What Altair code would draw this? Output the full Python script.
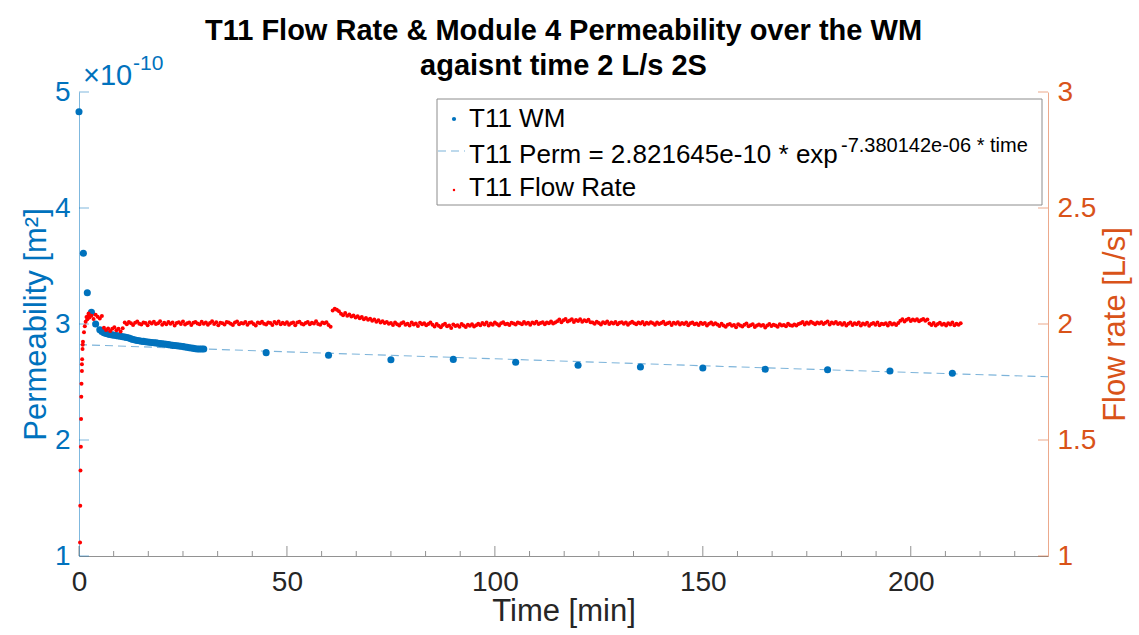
import altair as alt
import numpy as np
import pandas as pd

# ---------------- data ----------------
# Permeability (units of 1e-10 m^2)
perm_time = [0, 1.05, 2, 3, 4,
             5, 5.5, 6, 6.5, 7, 7.5, 8, 8.5, 9, 9.5, 10, 10.5, 11, 11.5, 12, 12.5,
             13, 13.5, 14, 14.5, 15, 15.5, 16, 16.5, 17, 17.5, 18, 18.5, 19, 19.5,
             20, 20.5, 21, 21.5, 22, 22.5, 23, 23.5, 24, 24.5, 25, 25.5, 26, 26.5,
             27, 27.5, 28, 28.5, 29, 29.5, 30,
             45, 60, 75, 90, 105, 120, 135, 150, 165, 180, 195, 210]
perm_values = [4.83, 3.61, 3.27, 3.10, 3.00,
               2.950, 2.935, 2.925, 2.918, 2.913, 2.910, 2.906, 2.903, 2.900, 2.897,
               2.894, 2.890, 2.887, 2.884, 2.880, 2.872, 2.866, 2.862, 2.858, 2.855,
               2.852, 2.850, 2.847, 2.845, 2.843, 2.841, 2.839, 2.837, 2.834, 2.831,
               2.829, 2.827, 2.825, 2.822, 2.819, 2.816, 2.814, 2.812, 2.810, 2.808,
               2.805, 2.802, 2.799, 2.796, 2.793, 2.790, 2.787, 2.785, 2.784, 2.784, 2.785,
               2.753, 2.730, 2.692, 2.695, 2.670, 2.645, 2.630, 2.620, 2.610, 2.605, 2.595, 2.575]

# Fitted curve
fit_time = [0, 25, 50, 75, 100, 125, 150, 175, 200, 233]
fit_values = [2.822, 2.791, 2.760, 2.730, 2.700, 2.670, 2.640, 2.611, 2.582, 2.545]

# Flow rate (L/s): start-up points
flow_start_time = [0.25, 0.3, 0.35, 0.45, 0.5, 0.55, 0.6, 0.7, 0.7, 0.75, 0.85, 0.9,
                   0.95, 1.2, 1.4, 1.6, 1.8, 2.0, 2.2, 2.3]
flow_start = [1.058, 1.217, 1.369, 1.471, 1.591, 1.686, 1.742, 1.797, 1.826, 1.848,
              1.892, 1.911, 1.924, 1.964, 1.990, 2.010, 2.030, 2.020, 2.035, 2.045]

# Flow rate (L/s) from 2.5 min, one reading every half minute
flow_seg_a = [2.028, 2.036, 2.022, 2.040, 2.031, 2.024, 2.034]
flow_seg_b = [1.984, 1.974, 1.981, 1.970, 1.979, 1.986, 1.973, 1.980, 1.968, 1.982]
flow_seg_c = [2.006, 1.999, 2.009, 2.003, 1.996, 2.005, 2.011, 2.001, 1.998, 2.007,
              2.004, 1.995, 2.008, 2.002, 2.010, 2.000, 2.003, 2.012, 1.997, 2.005,
              1.999, 2.009, 2.001, 2.006, 1.994, 2.004, 2.008, 2.000, 2.011, 1.998,
              2.003, 2.007, 1.996, 2.005, 2.009, 2.002, 1.999, 2.010, 2.001, 2.006,
              1.997, 2.004, 2.012, 2.000, 2.008, 1.995, 2.005, 2.003, 1.998, 2.009,
              2.007, 2.001, 1.996, 2.006, 2.011, 1.999, 2.004, 2.002, 2.009, 1.997,
              2.005, 2.008, 2.000, 1.994, 2.007, 2.003, 2.010, 2.001, 1.998, 2.006,
              2.004, 1.996, 2.009, 2.002, 2.011, 1.999, 2.005, 2.000, 2.008, 1.997,
              2.003, 2.007, 1.995, 2.006, 2.010, 2.001, 1.998, 2.004, 2.009, 1.999,
              2.005, 2.002, 2.012, 2.000, 1.997, 2.007, 2.003, 2.008, 1.996, 1.988]
flow_seg_d = [2.058, 2.066, 2.061, 2.055]
flow_seg_e = [2.044, 2.038, 2.047, 2.036, 2.041, 2.032, 2.037, 2.028, 2.033, 2.025,
              2.030, 2.021, 2.026, 2.018, 2.023, 2.014, 2.019, 2.010, 2.016, 2.007,
              2.012, 2.004, 2.009, 2.001]
flow_seg_f = [2.004, 1.996, 2.007, 1.999, 1.993, 2.003, 2.008, 1.997, 2.001, 1.994,
              2.006, 1.998, 2.002, 1.991, 2.005, 1.999, 2.003, 1.995, 2.000, 2.006]
flow_seg_g = [1.997, 1.989, 2.000, 1.992, 1.986, 1.996, 2.001, 1.990, 1.994, 1.983,
              1.998, 1.991, 1.995, 1.988, 2.000, 1.993, 1.987, 1.997, 1.992, 1.999,
              1.989, 1.995]
flow_seg_h = [2.001, 1.995, 2.004, 1.998, 2.007, 1.993, 2.002, 1.997, 2.006, 2.000,
              1.994, 2.003, 2.008, 1.999, 2.001, 1.996, 2.005, 2.002, 1.998, 2.007,
              2.003, 1.999, 2.009, 2.001, 2.005, 1.997, 2.006, 2.002, 2.010, 2.000,
              2.004, 2.008, 1.999, 2.006, 2.003, 2.011, 2.002, 2.007]
flow_seg_i = [2.012, 2.019, 2.008, 2.016, 2.022, 2.011, 2.015, 2.020, 2.009, 2.017,
              2.013, 2.021, 2.010, 2.016, 2.012, 2.018, 2.008]
flow_seg_j = [2.007, 2.001, 2.010, 2.004, 1.998, 2.008, 2.003, 2.011, 2.000, 2.006,
              2.002, 2.009, 1.999, 2.005, 2.008, 2.001, 2.006, 1.997, 2.004, 2.010,
              2.003, 1.999, 2.007, 2.002, 2.009, 1.998, 2.005, 2.001, 2.008, 2.003,
              1.997, 2.006, 2.000, 2.004, 2.010, 1.999, 2.003, 2.007, 1.996, 2.005,
              2.001, 2.008, 1.998, 2.004, 2.000, 2.006, 1.995, 2.003, 2.007, 1.999,
              2.002, 1.996, 2.005, 2.000, 2.004, 1.994, 2.001, 2.006, 1.998, 2.003]
flow_seg_k = [1.998, 1.991, 2.001, 1.994, 1.988, 1.997, 2.000, 1.992, 1.996, 1.986,
              1.999, 1.993, 1.989, 1.997, 2.002, 1.990, 1.995, 1.999, 1.987, 1.994,
              1.998, 1.992, 1.996, 1.985, 1.993, 2.000, 1.991, 1.997, 1.994, 1.988,
              1.999, 1.993, 1.996, 1.990, 2.001, 1.995, 1.992, 1.998, 1.994, 2.000]
flow_seg_l = [2.003, 2.009, 1.998, 2.006, 2.001, 2.010, 2.004, 1.999, 2.007, 2.002,
              2.008, 2.000, 2.005, 2.011, 1.998, 2.006, 2.002, 2.009, 2.000, 2.004]
flow_seg_m = [1.997, 2.004, 1.993, 2.001, 2.006, 1.996, 2.003, 1.999, 2.007, 1.994,
              2.002, 1.998, 2.005, 1.992, 2.000, 2.004, 1.997, 2.006, 1.995, 2.001,
              1.999, 2.003, 1.994, 2.005, 1.998, 2.002, 1.996, 2.004]
flow_seg_n = [2.014, 2.020, 2.011, 2.018, 2.023, 2.013, 2.019, 2.015, 2.021, 2.012,
              2.017, 2.022, 2.014, 2.019]
flow_seg_o = [2.002, 1.996, 2.004, 1.993, 2.000, 2.005, 1.997, 2.001, 1.994, 2.003,
              1.998, 2.006, 1.995, 2.001, 1.997, 2.003]

x_ticks_major = [0, 50, 100, 150, 200]
x_ticks_minor = [8.333, 16.667, 25, 33.333, 41.667, 58.333, 66.667, 75, 83.333, 91.667,
                 108.333, 116.667, 125, 133.333, 141.667, 158.333, 166.667, 175,
                 183.333, 191.667, 208.333, 216.667, 225]
perm_ticks = [1, 2, 3, 4, 5]
flow_ticks = [1, 1.5, 2, 2.5, 3]

title_lines = ["T11 Flow Rate & Module 4 Permeability over the WM",
               "agaisnt time 2 L/s 2S"]

# ---------------- styling ----------------
BLUE = "#0072BD"
ORANGE = "#D95319"
RED = "#FF0000"
FIT = "#7DB4DA"
DARK = "#262626"
FONT = "Liberation Sans"
W, H = 969, 464
TICK_FS = 28
LAB_FS = 31
LEG_FS = 26

flow_main = (flow_seg_a + flow_seg_b + flow_seg_c + flow_seg_d + flow_seg_e + flow_seg_f
             + flow_seg_g + flow_seg_h + flow_seg_i + flow_seg_j + flow_seg_k + flow_seg_l
             + flow_seg_m + flow_seg_n + flow_seg_o)
flow_main_time = list(2.5 + 0.5 * np.arange(len(flow_main)))

perm_df = pd.DataFrame({"time": perm_time, "perm": perm_values})
fit_df = pd.DataFrame({"time": fit_time, "perm": fit_values})
flow_df = pd.DataFrame({"time": flow_start_time + flow_main_time,
                        "flow": flow_start + flow_main})

x_scale = alt.Scale(domain=[0, 233], nice=False, zero=False)
perm_scale = alt.Scale(domain=[1, 5], nice=False, zero=False)
flow_scale = alt.Scale(domain=[1, 3], nice=False, zero=False)

x_axis = alt.Axis(values=x_ticks_major, format="d", ticks=False, tickSize=0,
                  labelFontSize=TICK_FS, labelFont=FONT, labelColor=DARK, labelPadding=12,
                  labelFlush=False, title="Time [min]", titleFontSize=LAB_FS, titleFont=FONT,
                  titleColor=DARK, titleFontWeight="normal", titlePadding=0,
                  domainColor=DARK, domainOpacity=0.5, domainWidth=1, grid=False)
left_axis = alt.Axis(orient="left", values=perm_ticks, format="d", ticks=False, tickSize=0,
                     labelFontSize=TICK_FS, labelFont=FONT, labelColor=BLUE, labelPadding=9,
                     labelFlush=False, title="Permeability [m²]", titleFontSize=LAB_FS,
                     titleFont=FONT, titleColor=BLUE, titleFontWeight="normal", titlePadding=2,
                     domainColor=BLUE, domainOpacity=0.5, domainWidth=1, grid=False)
right_axis = alt.Axis(orient="right", values=flow_ticks, format="~g", ticks=False, tickSize=0,
                      labelFontSize=TICK_FS, labelFont=FONT, labelColor=ORANGE, labelPadding=9,
                      labelFlush=False, title="Flow rate [L/s]", titleFontSize=LAB_FS,
                      titleFont=FONT, titleColor=ORANGE, titleFontWeight="normal",
                      titleAngle=270, titlePadding=36,
                      domainColor=ORANGE, domainOpacity=0.5, domainWidth=1, grid=False)


def X(field):
    return alt.X(field, scale=x_scale, axis=x_axis)


perm_pts = alt.Chart(perm_df).mark_circle(color=BLUE, size=50, opacity=1).encode(
    x=X("time:Q"), y=alt.Y("perm:Q", scale=perm_scale, axis=left_axis))
fit_line = alt.Chart(fit_df).mark_line(color=FIT, strokeDash=[8, 5], strokeWidth=1.1).encode(
    x=X("time:Q"), y=alt.Y("perm:Q", scale=perm_scale, axis=left_axis))
left_tk = alt.Chart(pd.DataFrame({"perm": perm_ticks})).mark_rule(
    color=BLUE, opacity=0.5, strokeWidth=1).encode(
    y=alt.Y("perm:Q", scale=perm_scale, axis=left_axis), x=alt.value(0), x2=alt.value(10))
left = alt.layer(fit_line, perm_pts, left_tk)

flow_pts = alt.Chart(flow_df).mark_circle(color=RED, size=16, opacity=1).encode(
    x=X("time:Q"), y=alt.Y("flow:Q", scale=flow_scale, axis=right_axis))
right_tk = alt.Chart(pd.DataFrame({"flow": flow_ticks})).mark_rule(
    color=ORANGE, opacity=0.5, strokeWidth=1).encode(
    y=alt.Y("flow:Q", scale=flow_scale, axis=right_axis), x=alt.value(W - 10), x2=alt.value(W))
right = alt.layer(flow_pts, right_tk)

xt_major = alt.Chart(pd.DataFrame({"time": x_ticks_major})).mark_rule(
    color=DARK, opacity=0.5, strokeWidth=1).encode(
    x=X("time:Q"), y=alt.value(H), y2=alt.value(H - 10))
xt_minor = alt.Chart(pd.DataFrame({"time": x_ticks_minor})).mark_rule(
    color=DARK, opacity=0.5, strokeWidth=1).encode(
    x=X("time:Q"), y=alt.value(H), y2=alt.value(H - 5))

one = pd.DataFrame({"a": [0]})


def txt(s, x, y, size, color="black", align="left", weight="normal"):
    return alt.Chart(one).mark_text(text=s, align=align, baseline="alphabetic",
                                    fontSize=size, font=FONT, color=color,
                                    fontWeight=weight).encode(
        x=alt.value(x), y=alt.value(y))


leg_box = alt.Chart(one).mark_rect(fill="white", stroke="#8c8c8c", strokeWidth=1).encode(
    x=alt.value(358), x2=alt.value(963), y=alt.value(7), y2=alt.value(113))
leg_dot = alt.Chart(one).mark_circle(color=BLUE, size=18, opacity=1).encode(
    x=alt.value(375), y=alt.value(27))
leg_dash = alt.Chart(one).mark_rule(color=FIT, strokeDash=[8, 5], strokeWidth=1.1).encode(
    x=alt.value(359), x2=alt.value(386), y=alt.value(59))
leg_red = alt.Chart(one).mark_circle(color=RED, size=6, opacity=1).encode(
    x=alt.value(375), y=alt.value(98))

legend = [leg_box, leg_dot, leg_dash, leg_red,
          txt("T11 WM", 390, 35, LEG_FS),
          txt("T11 Perm = 2.821645e-10 * exp", 390, 71, LEG_FS),
          txt("-7.380142e-06 * time", 762, 60, 20),
          txt("T11 Flow Rate", 390, 104, LEG_FS)]

exponent = [txt("×10", 4, -7, 29, BLUE), txt("-10", 54, -22, 21, BLUE)]

title = [txt(title_lines[0], W / 2, -52, 29, "black", "center", "bold"),
         txt(title_lines[1], W / 2, -17, 29, "black", "center", "bold")]

chart = alt.layer(left, right, xt_major, xt_minor, *legend, *exponent, *title).resolve_scale(
    y="independent"
).properties(
    width=W, height=H,
    padding={"left": 79, "top": 92, "right": 91, "bottom": 79},
    autosize=alt.AutoSizeParams(type="none"),
).configure_view(stroke=None).configure_axis(grid=False)

chart.save("out.html", embed_options={"renderer": "svg", "actions": False})
